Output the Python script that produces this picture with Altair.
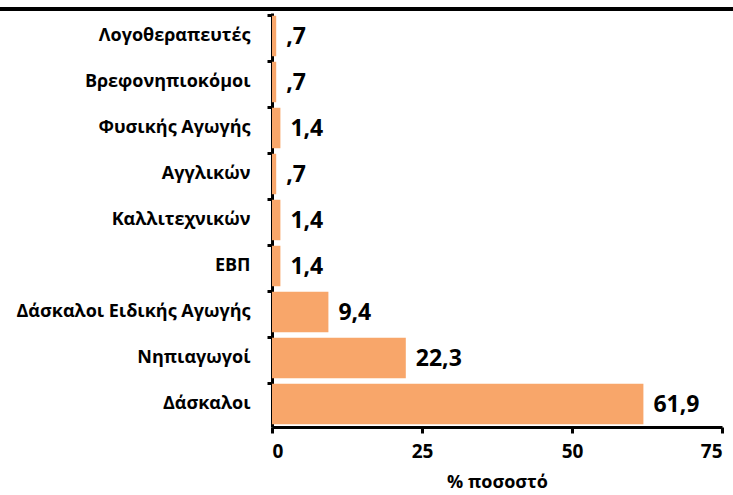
import altair as alt
import pandas as pd

categories = ["Λογοθεραπευτές", "Βρεφονηπιοκόμοι", "Φυσικής Αγωγής", "Αγγλικών",
              "Καλλιτεχνικών", "ΕΒΠ", "Δάσκαλοι Ειδικής Αγωγής", "Νηπιαγωγοί", "Δάσκαλοι"]
values = [0.7, 0.7, 1.4, 0.7, 1.4, 1.4, 9.4, 22.3, 61.9]
value_labels = [",7", ",7", "1,4", ",7", "1,4", "1,4", "9,4", "22,3", "61,9"]
x_ticks = [0, 25, 50, 75]

df = pd.DataFrame({"cat": categories, "val": values, "lab": value_labels})

FONT = "Open Sans"

y_enc = alt.Y("cat:N", sort=categories, title=None,
              scale=alt.Scale(paddingInner=0.12, paddingOuter=0.06),
              axis=alt.Axis(bandPosition=0, labelFont=FONT, labelFontWeight="bold",
                            labelFontSize=18, labelColor="black", labelPadding=17,
                            domainColor="black", domainWidth=3, tickColor="black",
                            tickWidth=3, tickSize=5, labelLimit=400))
x_enc = alt.X("val:Q", title="% ποσοστό",
              scale=alt.Scale(domain=[0, 75], nice=False),
              axis=alt.Axis(values=x_ticks, grid=False, labelFont=FONT,
                            labelFontWeight="bold", labelFontSize=19, labelColor="black",
                            labelPadding=9, domainColor="black", domainWidth=3,
                            tickColor="black", tickWidth=3, tickSize=6,
                            titleFont=FONT, titleFontWeight="bold", titleFontSize=18,
                            titleColor="black", titlePadding=12))

bars = alt.Chart(df).mark_bar(color="#F8A66A").encode(x=x_enc, y=y_enc)
texts = alt.Chart(df).mark_text(align="left", baseline="middle", dx=10, dy=1,
                                font=FONT, fontWeight="bold", fontSize=23,
                                color="black").encode(
    x="val:Q", y=alt.Y("cat:N", sort=categories), text="lab:N")
top_line = alt.Chart(df).mark_rule(color="black", strokeWidth=3).encode(
    x=alt.value(-272), x2=alt.value(461), y=alt.value(-4))

chart = alt.layer(bars, texts, top_line).properties(
    width=450, height=414,
    autosize=alt.AutoSizeParams(type="none"),
    padding={"left": 272, "top": 13, "right": 11, "bottom": 68},
).configure_view(stroke=None)

chart.save("out.html", embed_options={"renderer": "svg", "actions": False})
